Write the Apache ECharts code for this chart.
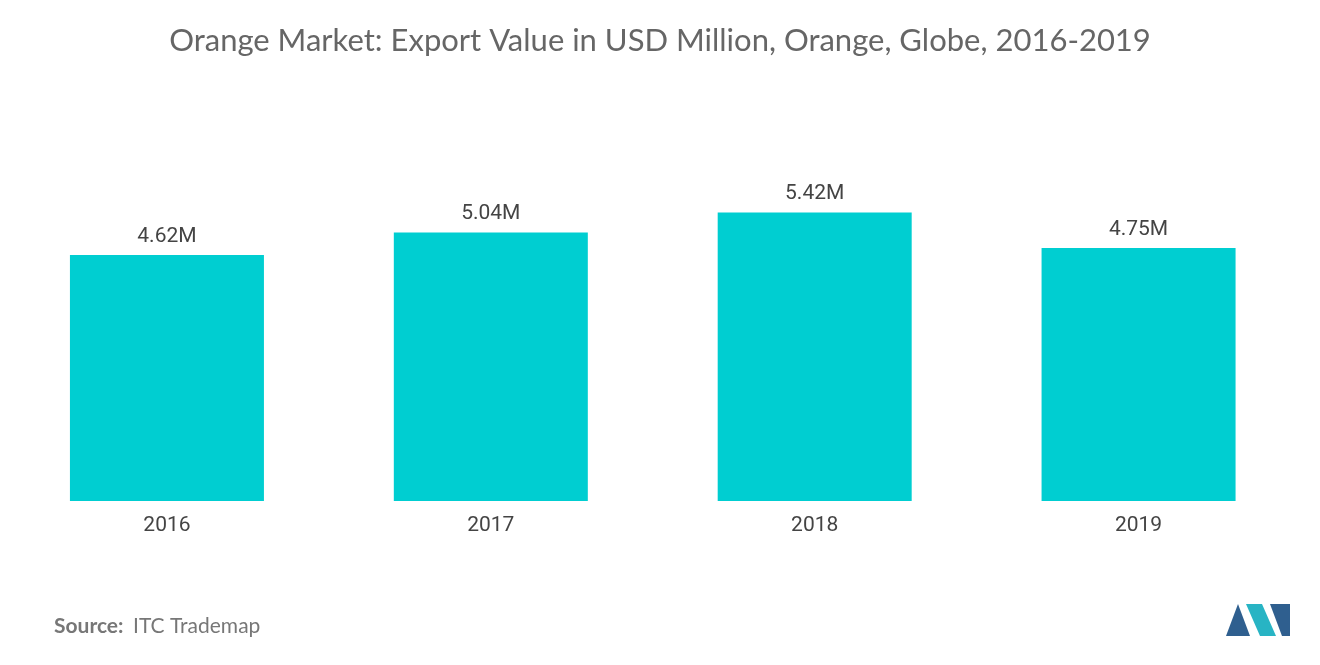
<!DOCTYPE html>
<html>
<head>
<meta charset="utf-8">
<script src="https://cdn.jsdelivr.net/npm/echarts@6/dist/echarts.min.js"></script>
<style>html,body{margin:0;padding:0;background:#fff}#main{width:1320px;height:665px}</style>
</head>
<body>
<div id="main"></div>
<script>
var years = ['2016', '2017', '2018', '2019'];
var values = [4.62, 5.04, 5.42, 4.75];

var myChart = echarts.init(document.getElementById('main'));
var option = {
    animation: false,
    title: {
        text: 'Orange Market: Export Value in USD Million, Orange, Globe, 2016-2019',
        left: 'center',
        top: 20,
        textStyle: {fontFamily: 'Lato', fontSize: 31, fontWeight: 'normal', color: '#666'}
    },
    grid: {left: 5, right: 19.5, top: 181.5, bottom: 164},
    xAxis: {
        type: 'category',
        data: years,
        axisLine: {show: false},
        axisTick: {show: false},
        axisLabel: {fontFamily: 'Roboto', fontSize: 21, color: '#444', margin: 14}
    },
    yAxis: {type: 'value', min: 0, max: 6, show: false},
    series: [{
        type: 'bar',
        data: values,
        barWidth: 194,
        itemStyle: {color: '#00CED1'},
        label: {
            show: true,
            position: 'top',
            distance: 8,
            fontFamily: 'Roboto',
            fontSize: 21,
            color: '#444',
            formatter: function (p) { return p.value.toFixed(2) + 'M'; }
        }
    }],
    graphic: [
        {type: 'text', left: 54, top: 616, style: {text: 'Source:', font: 'bold 21px Lato', fill: '#777'}},
        {type: 'text', left: 133, top: 616, style: {text: 'ITC Trademap', font: '21px Lato', fill: '#777'}},
        {type: 'polygon', shape: {points: [[1226, 636], [1238, 604], [1250, 636]]}, style: {fill: '#2f5f8f'}},
        {type: 'polygon', shape: {points: [[1246, 604], [1262, 604], [1276, 636], [1260, 636]]}, style: {fill: '#28b4c4'}},
        {type: 'polygon', shape: {points: [[1270, 604], [1290, 604], [1290, 636], [1282, 636]]}, style: {fill: '#2f5f8f'}}
    ]
};
myChart.setOption(option);
</script>
</body>
</html>
